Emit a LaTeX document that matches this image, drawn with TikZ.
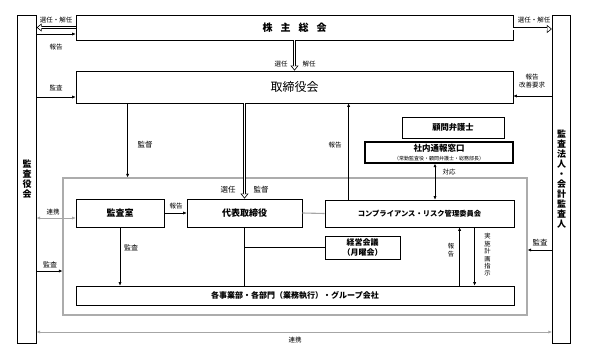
\documentclass[tikz,border=0pt]{standalone}
\usepackage{fontspec}
\setmainfont{Noto Sans CJK JP}
\usetikzlibrary{arrows.meta}

\begin{document}
\begin{tikzpicture}[x=1pt, y=1pt,
  font=\fontsize{8}{9.5}\selectfont,
  box/.style={draw, line width=0.8pt, align=center, inner sep=1pt},
  lbl/.style={font=\fontsize{6.5}{7.5}\selectfont, inner sep=0.5pt},
  vlbl/.style={align=center, font=\fontsize{6.3}{7.4}\selectfont, inner sep=0.5pt},
  side/.style={draw, line width=0.8pt, align=center, inner sep=0pt, minimum width=18.5, minimum height=328, font=\fontsize{9}{10}\selectfont\bfseries},
  flow/.style={-{Latex[length=3.4pt,width=3.2pt]}, line width=0.6pt},
  both/.style={{Latex[length=3.4pt,width=3.2pt]}-{Latex[length=3.4pt,width=3.2pt]}, line width=0.6pt},
  tie/.style={draw=gray!70, line width=1.1pt},
  dbl/.style={line width=3pt, -{Triangle[length=5pt, width=8pt, line width=0.6pt, fill=white]},
    postaction={draw=white, line width=1.8pt, -, shorten >=4.4pt}}
]
\path (0,0) rectangle (591,-358);
% ---------- side boxes ----------
\node[side] (ab) at (27,-179) {監\\査\\役\\会};
\node[side] (cpa) at (561.5,-179) {監\\査\\法\\人\\・\\会\\計\\監\\査\\人};
% ---------- top boxes ----------
\node[box, minimum width=437, minimum height=25, font=\fontsize{10}{12}\selectfont\bfseries] (agm) at (294.5,-27.5) {株\hspace{8pt}主\hspace{8pt}総\hspace{8pt}会};
\node[box, minimum width=437, minimum height=32, font=\fontsize{12}{14}\selectfont] (brd) at (294.5,-87) {取締役会};
% ---------- executive frame ----------
\node[draw=gray!65, line width=1.3pt, minimum width=464, minimum height=137] (org) at (295,-246.5) {};
\node[box, minimum width=88, minimum height=28, font=\fontsize{9}{11}\selectfont\bfseries] (audit) at (120,-213) {監査室};
\node[box, minimum width=115, minimum height=28, font=\fontsize{9}{11}\selectfont\bfseries] (ceo) at (244.5,-213) {代表取締役};
\node[box, minimum width=189, minimum height=27, font=\fontsize{7.3}{9}\selectfont\bfseries] (comp) at (419.5,-213.5) {コンプライアンス・リスク管理委員会};
\node[box, minimum width=75, minimum height=23, font=\fontsize{8}{9.5}\selectfont\bfseries] (mtg) at (362.5,-247.5) {経営会議\\（月曜会）};
\node[box, minimum width=438, minimum height=19, font=\fontsize{8}{9.5}\selectfont\bfseries] (dept) at (295,-295.5) {各事業部・各部門（業務執行）・グループ会社};
% ---------- outside the frame ----------
\node[box, minimum width=102, minimum height=21, font=\fontsize{8.3}{10}\selectfont\bfseries] (law) at (453,-127.5) {顧問弁護士};
\node[box, line width=1.6pt, minimum width=148, minimum height=21, inner sep=0pt] (wb) at (439,-152.5) {{\fontsize{8.5}{9}\selectfont\bfseries 社内通報窓口}\\[-1pt] {\fontsize{5}{6}\selectfont（常勤監査役・顧問弁護士・総務部長）}};
% ---------- shareholders ----------
\draw[dbl] (agm.west) -- (agm.west -| ab.east);
\draw[flow] ([yshift=-6.5pt]agm.west -| ab.east) -- ([yshift=-6.5pt]agm.west);
\draw[dbl] ([yshift=-1.5pt]agm.east) -- ([yshift=-1.5pt]agm.east -| cpa.west);
\draw[dbl] (agm.south) -- (brd.north);
\node[lbl] (t1) at (56,-20) {選任・解任};
\node[lbl] (t2) at (56,-47) {報告};
\node[lbl] (t3) at (534,-20) {選任・解任};
\node[lbl] (t4) at (281,-64) {選任};
\node[lbl] (t5) at (309,-64) {解任};
% ---------- board ----------
\draw[flow] ([yshift=-10pt]brd.west -| ab.east) -- ([yshift=-10pt]brd.west);
\draw[flow] ([yshift=-9pt]brd.east -| cpa.west) -- ([yshift=-9pt]brd.east);
\draw[flow] ([xshift=52pt]brd.south west) -- ([xshift=52pt]brd.south west |- org.north);
\draw[dbl] (brd.south -| ceo.north) -- (ceo.north);
\node[lbl] (t6) at (56,-88) {監査};
\node[lbl] (t7) at (532,-77) {報告};
\node[lbl] (t8) at (532,-85.5) {改善要求};
\node[lbl, font=\fontsize{7.5}{9}\selectfont] (t9) at (145,-145) {監督};
\node[lbl, font=\fontsize{7.5}{9}\selectfont] (t10) at (228,-190) {選任};
\node[lbl, font=\fontsize{7.5}{9}\selectfont] (t11) at (261,-190) {監督};
% ---------- inside the frame ----------
\draw[tie, both] ([yshift=-5pt]audit.west -| ab.east) -- ([yshift=-5pt]audit.west);
\draw[flow] (audit.east) -- (ceo.west);
\draw[tie] (ceo.east) -- (comp.west);
\draw (ceo.south) -- (ceo.south |- dept.north);
\draw (ceo.south |- mtg.west) -- (mtg.west);
\draw[flow] (audit.south) -- (audit.south |- dept.north);
\draw[flow] ([xshift=24pt]comp.north west) -- ([xshift=24pt]comp.north west |- brd.south);
\draw[both] ([xshift=-4pt]wb.south) -- ([xshift=-4pt]wb.south |- comp.north);
\draw[flow] ([xshift=135pt]comp.south west |- dept.north) -- ([xshift=135pt]comp.south west);
\draw[flow] ([xshift=150pt]comp.south west) -- ([xshift=150pt]comp.south west |- dept.north);
\node[lbl] (t12) at (53,-212) {連携};
\node[lbl] (t13) at (176,-206) {報告};
\node[lbl] (t14) at (335,-145) {報告};
\node[lbl] (t15) at (449,-172) {対応};
\node[lbl, font=\fontsize{7}{8}\selectfont] (t16) at (131,-248) {監査};
\node[vlbl] (t17) at (451,-250) {報\\告};
\node[vlbl] (t18) at (487.5,-255) {実\\施\\計\\画\\指\\示};
% ---------- frame and side links ----------
\draw[flow] ([yshift=-24.5pt]org.west -| ab.east) -- ([yshift=-24.5pt]org.west);
\draw[flow] ([yshift=-3.5pt]org.east -| cpa.west) -- ([yshift=-3.5pt]org.east);
\draw[tie, both] ([yshift=-153pt]ab.east) -- ([yshift=-153pt]ab.east -| cpa.west);
\node[lbl, font=\fontsize{7}{8}\selectfont] (t19) at (50,-265) {監査};
\node[lbl, font=\fontsize{7.5}{9}\selectfont] (t20) at (540,-243) {監査};
\node[lbl] (t21) at (295,-340) {連携};
\end{tikzpicture}
\end{document}
